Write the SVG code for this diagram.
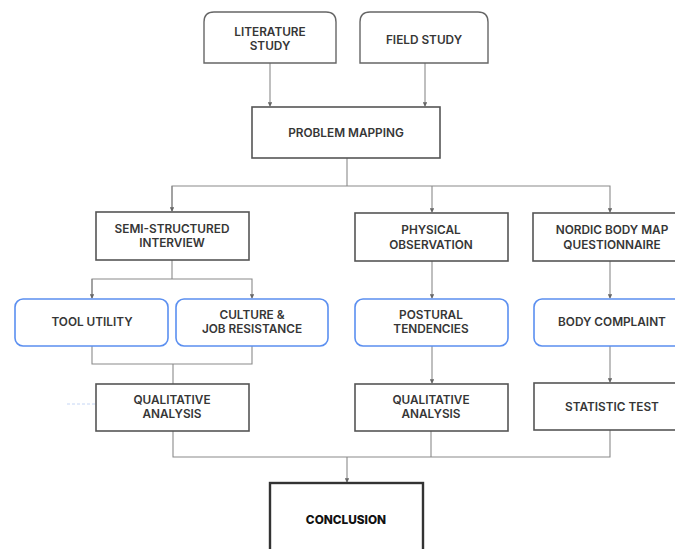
<svg xmlns="http://www.w3.org/2000/svg" width="675" height="549" viewBox="0 0 675 549">
<defs>
<style>
.box{fill:#fff;stroke:#555;stroke-width:1.6}
.top{fill:#fff;stroke:#666;stroke-width:1.4}
.blue{fill:#fff;stroke:#5b8ff0;stroke-width:1.6}
.concl{fill:#fff;stroke:#333;stroke-width:2.4}
.ln{fill:none;stroke:#8a8a8a;stroke-width:1.1}
text{font-family:Inter,"Noto Sans","DejaVu Sans",sans-serif;font-size:11.8px;font-weight:600;fill:#363636;text-anchor:middle;dominant-baseline:central}
.bold{font-weight:800;fill:#111}
</style>
<marker id="ah" viewBox="0 0 6 6" refX="5" refY="3" markerWidth="4" markerHeight="4" orient="auto">
<path d="M0,0 L6,3 L0,6 z" fill="#666"/>
</marker>
</defs>
<rect width="675" height="549" fill="#fff"/>
<g id="connectors">
<line class="ln" x1="270" y1="63" x2="270" y2="106" marker-end="url(#ah)"/>
<line class="ln" x1="425" y1="63" x2="425" y2="106" marker-end="url(#ah)"/>
<polyline class="ln" points="347,158 347,186"/>
<polyline class="ln" points="172,211 172,186 610,186 610,212" marker-end="url(#ah)"/>
<line class="ln" x1="172" y1="186" x2="172" y2="211" marker-end="url(#ah)"/>
<line class="ln" x1="432" y1="186" x2="432" y2="212" marker-end="url(#ah)"/>
<line class="ln" x1="172" y1="260" x2="172" y2="279"/>
<polyline class="ln" points="92,298 92,279 252,279 252,298" marker-end="url(#ah)"/>
<line class="ln" x1="92" y1="279" x2="92" y2="298" marker-end="url(#ah)"/>
<line class="ln" x1="432" y1="261" x2="432" y2="298" marker-end="url(#ah)"/>
<line class="ln" x1="610" y1="261" x2="610" y2="298" marker-end="url(#ah)"/>
<polyline class="ln" points="92,346 92,364 252,364 252,346"/>
<line class="ln" x1="173" y1="364" x2="173" y2="384"/>
<line class="ln" x1="432" y1="346" x2="432" y2="383" marker-end="url(#ah)"/>
<line class="ln" x1="610" y1="346" x2="610" y2="382" marker-end="url(#ah)"/>
<polyline class="ln" points="173,431 173,457 610,457 610,430"/>
<line class="ln" x1="431" y1="431" x2="431" y2="457"/>
<line class="ln" x1="347" y1="457" x2="347" y2="482" marker-end="url(#ah)"/>
<line x1="67" y1="404" x2="95" y2="404" stroke="#c5d6f5" stroke-width="1" stroke-dasharray="3,2"/>
</g>
<g id="literature">
<path class="top" d="M204,63 V22 Q204,12 214,12 H326 Q336,12 336,22 V63 Z"/>
<text x="270" y="32">LITERATURE</text>
<text x="270" y="46">STUDY</text>
</g>
<g id="field">
<path class="top" d="M360,63 V22 Q360,12 370,12 H478 Q488,12 488,22 V63 Z"/>
<text x="424" y="40">FIELD STUDY</text>
</g>
<g id="problem">
<rect class="box" x="252" y="107" width="188" height="51"/>
<text x="346" y="133">PROBLEM MAPPING</text>
</g>
<g id="semi">
<rect class="box" x="96" y="212" width="153" height="48"/>
<text x="172" y="229">SEMI-STRUCTURED</text>
<text x="172" y="243">INTERVIEW</text>
</g>
<g id="physical">
<rect class="box" x="355" y="213" width="153" height="48"/>
<text x="431" y="230">PHYSICAL</text>
<text x="431" y="245">OBSERVATION</text>
</g>
<g id="nordic">
<rect class="box" x="533" y="213" width="154" height="48"/>
<text x="612" y="230">NORDIC BODY MAP</text>
<text x="612" y="245">QUESTIONNAIRE</text>
</g>
<g id="tool">
<rect class="blue" x="15" y="299" width="153" height="47" rx="8"/>
<text x="92" y="322">TOOL UTILITY</text>
</g>
<g id="culture">
<rect class="blue" x="176" y="299" width="152" height="47" rx="8"/>
<text x="252" y="315">CULTURE &amp;</text>
<text x="252" y="329">JOB RESISTANCE</text>
</g>
<g id="postural">
<rect class="blue" x="355" y="299" width="153" height="47" rx="8"/>
<text x="431" y="315">POSTURAL</text>
<text x="431" y="329">TENDENCIES</text>
</g>
<g id="body">
<rect class="blue" x="534" y="299" width="153" height="47" rx="8"/>
<text x="612" y="322">BODY COMPLAINT</text>
</g>
<g id="qual1">
<rect class="box" x="96" y="384" width="153" height="47"/>
<text x="172" y="400">QUALITATIVE</text>
<text x="172" y="414">ANALYSIS</text>
</g>
<g id="qual2">
<rect class="box" x="355" y="384" width="153" height="47"/>
<text x="431" y="400">QUALITATIVE</text>
<text x="431" y="414">ANALYSIS</text>
</g>
<g id="stat">
<rect class="box" x="534" y="383" width="153" height="47"/>
<text x="612" y="407">STATISTIC TEST</text>
</g>
<g id="conclusion">
<rect class="concl" x="270" y="483" width="153" height="80"/>
<text class="bold" x="346" y="520">CONCLUSION</text>
</g>
</svg>
